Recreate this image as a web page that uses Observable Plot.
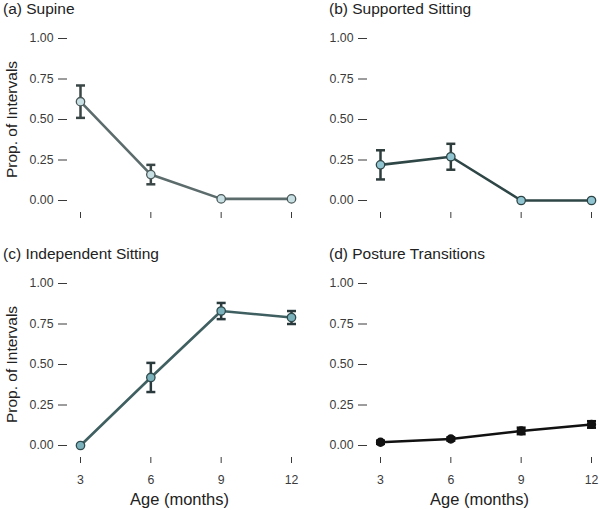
<!DOCTYPE html>
<html>
<head>
<meta charset="utf-8">
<script src="https://cdn.jsdelivr.net/npm/d3@7"></script>
<script src="https://cdn.jsdelivr.net/npm/@observablehq/plot@0.6"></script>
<style>
  html, body { margin: 0; padding: 0; background: #fff; }
  #wrap { position: relative; width: 600px; height: 510px; font-family: "Liberation Sans", Arial, sans-serif; overflow: hidden; }
  .panel { position: absolute; }
  .title { position: absolute; font-size: 15.5px; color: #222; white-space: nowrap; line-height: 1; }
</style>
</head>
<body>
<div id="wrap"></div>
<script>
// ---- data ----
const ages = [3, 6, 9, 12];
const yTicks = [0, 0.25, 0.5, 0.75, 1];

const titles = ["(a) Supine", "(b) Supported Sitting", "(c) Independent Sitting", "(d) Posture Transitions"];

const supineMean = [0.61, 0.16, 0.01, 0.01];
const supineLo   = [0.51, 0.10, 0.01, 0.01];
const supineHi   = [0.71, 0.22, 0.01, 0.01];

const supportedMean = [0.22, 0.27, 0, 0];
const supportedLo   = [0.13, 0.19, 0, 0];
const supportedHi   = [0.31, 0.35, 0, 0];

const indepMean = [0, 0.42, 0.83, 0.79];
const indepLo   = [0, 0.33, 0.78, 0.75];
const indepHi   = [0, 0.51, 0.88, 0.83];

const transMean = [0.02, 0.04, 0.09, 0.13];
const transLo   = [0.01, 0.03, 0.07, 0.11];
const transHi   = [0.03, 0.05, 0.11, 0.15];

const yLabel = "Prop. of Intervals";
const xLabel = "Age (months)";

// ---- drawing ----
const capSymbol = {
  draw(ctx, size) {
    const r = Math.sqrt(size / Math.PI);
    ctx.moveTo(-r, 0);
    ctx.lineTo(r, 0);
  }
};

function panel(cfg) {
  const data = ages.map((a, i) => ({age: a, m: cfg.mean[i], lo: cfg.lo[i], hi: cfg.hi[i]}));
  const errs = data.filter(d => d.hi - d.lo > 0.015);
  const bottomRow = cfg.row === 1;
  const height = bottomRow ? 265 : 245;
  const marks = [
    Plot.axisY({ticks: yTicks, tickFormat: d => d.toFixed(2), tickSize: 9, tickPadding: 5,
                fontSize: 12.3, color: "#3a3a3a", label: null}),
    Plot.axisX({ticks: ages, tickSize: 6, tickPadding: 12, fontSize: 12.3, color: "#3a3a3a",
                tickFormat: bottomRow ? (d => String(d)) : (() => ""), label: null}),
    Plot.ruleX(errs, {x: "age", y1: "lo", y2: "hi", stroke: cfg.err, strokeWidth: 2.5}),
    Plot.dot(errs, {x: "age", y: "lo", symbol: capSymbol, r: 4.5, stroke: cfg.err, strokeWidth: 2.5, fill: "none"}),
    Plot.dot(errs, {x: "age", y: "hi", symbol: capSymbol, r: 4.5, stroke: cfg.err, strokeWidth: 2.5, fill: "none"}),
    Plot.line(data, {x: "age", y: "m", stroke: cfg.line, strokeWidth: 2.6}),
    Plot.dot(data, {x: "age", y: "m", r: cfg.r || 4.2, fill: cfg.fill, stroke: cfg.dotStroke, strokeWidth: 1.3})
  ];
  if (cfg.col === 0) {
    marks.push(Plot.text([yLabel], {frameAnchor: "left", textAnchor: "middle", rotate: -90, dx: -55, dy: -6,
      fontSize: 15.5, fill: "#222"}));
  }
  if (bottomRow) {
    marks.push(Plot.text([xLabel], {frameAnchor: "bottom", dy: 42, lineAnchor: "middle",
      fontSize: 16.5, fill: "#222"}));
  }
  const svg = Plot.plot({
    width: 300,
    height,
    marginLeft: 67,
    marginRight: 9,
    marginTop: 38,
    marginBottom: height - 212,
    insetLeft: 13,
    insetRight: 0,
    insetTop: 0,
    insetBottom: 12,
    x: {domain: [3, 12]},
    y: {domain: [0, 1]},
    style: {fontFamily: "Liberation Sans, Arial, sans-serif", background: "transparent", overflow: "visible"},
    marks
  });
  const div = document.createElement("div");
  div.className = "panel";
  div.style.left = (cfg.col * 300) + "px";
  div.style.top = (cfg.row * 245) + "px";
  div.appendChild(svg);
  document.getElementById("wrap").appendChild(div);

  const t = document.createElement("div");
  t.className = "title";
  t.textContent = cfg.title;
  t.style.left = (cfg.col === 0 ? 3 : 329) + "px";
  t.style.top = (cfg.row * 245 + 1) + "px";
  document.getElementById("wrap").appendChild(t);
}

panel({title: titles[0], row: 0, col: 0, mean: supineMean, lo: supineLo, hi: supineHi,
       line: "#5c6b6b", fill: "#c8dfe4", dotStroke: "#4a5858", err: "#3a4545"});
panel({title: titles[1], row: 0, col: 1, mean: supportedMean, lo: supportedLo, hi: supportedHi,
       line: "#2f4646", fill: "#8fc4d0", dotStroke: "#2e4444", err: "#2e3c3c"});
panel({title: titles[2], row: 1, col: 0, mean: indepMean, lo: indepLo, hi: indepHi,
       line: "#3f5f61", fill: "#7ab1bb", dotStroke: "#2f4a4c", err: "#2a3a3c"});
panel({title: titles[3], row: 1, col: 1, mean: transMean, lo: transLo, hi: transHi,
       line: "#111", fill: "#111", dotStroke: "#111", err: "#111", r: 4});
</script>
</body>
</html>
